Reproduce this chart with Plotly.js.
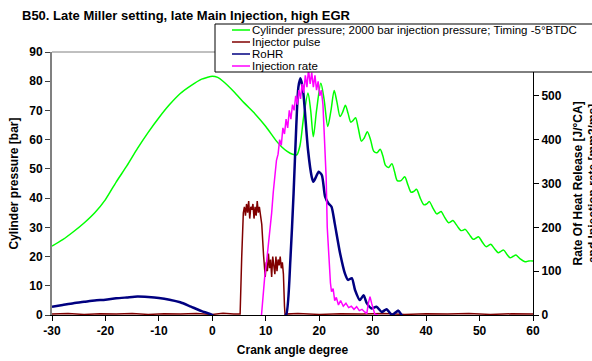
<!DOCTYPE html>
<html>
<head>
<meta charset="utf-8">
<script src="https://cdn.plot.ly/plotly-3.0.1.min.js"></script>
<style>html,body{margin:0;padding:0;background:#fff;}#chart{width:592px;height:361px;}</style>
</head>
<body>
<div id="chart"></div>
<script>
// ---- Data ----
const chartTitle = "B50. Late Miller setting, late Main Injection, high EGR";
const xTitle = "Crank angle degree";
const yTitle = "Cylinder pressure [bar]";
const y2Title = "Rate Of Heat Release [J/°CA]<br>and Injection rate [mm3/ms]";
const seriesNames = ["Cylinder pressure; 2000 bar injection pressure; Timing -5°BTDC", "Injector pulse", "RoHR", "Injection rate"];
const seriesColors = ["#00ff00", "#800000", "#000080", "#ff00ff"];

// Cylinder pressure [bar]
const pressureX = [-30,-28,-26,-24,-22,-20,-18,-16,-14,-12,-10,-8,-6,-4,-2,-1,0,1,2,4,6,8,10,12,13,14,15,15.8,16.4,17.1,17.9,18.4,18.9,19.5,20.3,20.9,21.6,22.2,22.8,23.3,23.9,24.4,24.9,25.4,25.9,26.3,26.8,27.3,27.9,28.4,29.0,29.6,30.2,30.8,31.4,31.9,32.4,33.0,33.6,34.1,34.6,35.3,36.0,36.6,37.2,37.7,38.2,38.9,39.6,40.1,40.6,41.3,42.0,42.4,42.8,43.5,44.2,44.6,45.0,45.8,46.5,46.9,47.3,48.1,48.8,49.3,49.8,50.5,51.2,51.7,52.1,52.8,53.5,54.0,54.5,55.1,55.7,56.3,56.8,57.6,58.5,59.2,60];
const pressureY = [23.6,25.8,28.5,31.5,35,39.5,45.5,51,57,62.5,67.5,72,75.8,78.5,80.7,81.3,81.7,81.3,80,76.5,72.5,68.8,64.5,59.5,57.5,56,55,54.8,58,68,76,70,61,70,79.3,74,64.5,70,76.8,73,67.9,69.5,71.8,69,66,66.5,67.5,64,59.5,60.5,62.7,60,56,55.5,56.7,54.5,51.2,50.5,51.8,49,46,46,47.3,44.5,42,42.3,43,40,37.7,38,38.8,36.5,34.6,35,35.4,33.3,31.6,31.9,32.3,30.5,28.9,29,29.3,27.5,25.9,26.3,26.8,25,23.4,23.8,24.2,22.7,21.3,21.8,22.2,20.8,19.6,20.1,20.5,19.2,18.2,18.5,18.5];

// Injector pulse (left axis units)
const pulseX = [-30,-27,-24,-21,-18,-15,-12,-9,-6,-3,0,2,4,5.2,5.5,5.8,6.0,6.2,6.4,6.6,6.8,7.0,7.2,7.4,7.6,7.8,8.0,8.2,8.4,8.6,8.8,9.0,9.25,9.6,9.9,10.1,10.3,10.5,10.7,10.9,11.1,11.3,11.5,11.7,11.9,12.1,12.3,12.5,12.7,12.9,13.1,13.3,13.5,13.6,16,20,24,28,32,36,40,44,48,52,56,60];
const pulseY = [0.3,0.5,0.2,0.4,0.3,0.5,0.2,0.4,0.3,0.5,0.2,0.6,0.3,0.3,20,35,37,34,38,35,39,33,37,36,38,33,37,34,39,35,37,34,31,20,13,18,15,21,16,19,13,20,17,14,20,15,19,17,20,16,18,14,3,0.3,0.5,0.2,0.4,0.3,0.5,0.2,0.4,0.3,0.5,0.2,0.4,0.3];

// Rate of heat release [J/°CA]
const rohrX = [-30,-28,-26,-24,-22,-20,-18,-16,-14,-12,-10,-8,-6,-4,-2,0,1,5,10,13,13.8,14.6,15.2,15.7,16.1,16.5,17.0,17.3,17.9,18.6,18.9,19.4,19.9,20.5,21.1,21.7,22.3,22.9,23.9,24.8,25.4,26.1,26.7,27.6,28.3,28.9,29.8,30.7,31.7,32.6,33.6,34.2,34.8,35.4,36,60];
const rohrY = [19,23,27,30,33,35,38,40,42,41,39,35,29,19,9,0,-10,-20,-15,-5,0,125,277,429,520,540,510,468,377,315,304,315,327,319,270,255,247,209,141,95,80,84,57,34,45,27,15,19,7,13,0,5,10,0,-5,-5];

// Injection rate (right axis units)
const injX = [9.2,9.5,9.8,10.2,10.5,10.8,11.1,11.4,11.7,12.0,12.3,12.6,12.9,13.2,13.5,13.8,14.1,14.4,14.7,15.0,15.3,15.6,15.9,16.2,16.5,16.8,17.1,17.4,17.7,18.0,18.3,18.6,18.9,19.2,19.5,19.8,20.1,20.4,20.7,20.9,21.1,21.3,21.5,21.7,21.9,22.1,22.3,22.6,22.9,23.2,23.6,24.0,24.5,25.0,25.5,26.0,26.5,27.0,27.5,28.0,28.5,28.9,29.2,29.5,29.8,30.1,30.4,31];
const injY = [0,47,87,127,160,200,233,280,313,353,367,400,387,427,413,447,427,467,447,480,467,500,480,513,493,527,507,547,520,560,527,553,520,547,513,533,500,513,480,427,367,313,200,147,113,73,53,60,33,40,23,33,20,27,17,20,13,19,10,13,7,3,27,42,27,13,2,0];

const xTicks = [-30,-20,-10,0,10,20,30,40,50,60];
const xTickText = ["-30","-20","-10","0","10","20","30","40","50","60"];
const yTicks = [0,10,20,30,40,50,60,70,80,90];
const y2Ticks = [0,100,200,300,400,500];

const FONT = "Liberation Sans, Arial, sans-serif";

const traces = [
  {x: pressureX, y: pressureY, name: seriesNames[0], type: "scatter", mode: "lines", line: {color: seriesColors[0], width: 1.5, shape: "spline", smoothing: 0.8}, yaxis: "y"},
  {x: pulseX, y: pulseY, name: seriesNames[1], type: "scatter", mode: "lines", line: {color: seriesColors[1], width: 1.5}, yaxis: "y"},
  {x: rohrX, y: rohrY, name: seriesNames[2], type: "scatter", mode: "lines", line: {color: seriesColors[2], width: 2.5, shape: "spline", smoothing: 0.6}, yaxis: "y2"},
  {x: injX, y: injY, name: seriesNames[3], type: "scatter", mode: "lines", line: {color: seriesColors[3], width: 1.5}, yaxis: "y2"}
];

// Custom compact legend (box + line samples + labels)
const L = {left: 215, top: 24, bottom: 72, rowY: [30, 42, 54, 66], sx0: 232, sx1: 250, tx: 251};
const shapes = [
  {type: "line", xref: "paper", yref: "paper", x0: 0, x1: 1, y0: 1, y1: 1, line: {color: "#808080", width: 1}},
  {type: "rect", xref: "paper", yref: "paper", x0: (L.left-52)/481, x1: (600-52)/481, y0: (315-L.bottom)/263, y1: (315-L.top)/263, line: {color: "#000", width: 1}, fillcolor: "#fff", layer: "above"}
];
const annotations = [];
seriesNames.forEach((n, i) => {
  const yp = (315 - L.rowY[i]) / 263;
  shapes.push({type: "line", xref: "paper", yref: "paper", x0: (L.sx0-52)/481, x1: (L.sx1-52)/481, y0: yp, y1: yp, line: {color: seriesColors[i], width: 1.5}, layer: "above"});
  annotations.push({xref: "paper", yref: "paper", x: (L.tx-52)/481, y: yp, xanchor: "left", yanchor: "middle", text: n, showarrow: false, borderpad: 0, font: {family: FONT, size: 11.5, color: "#000"}});
});
annotations.push({xref: "paper", yref: "paper", x: (585-52)/481, y: 0.5, xanchor: "center", yanchor: "middle", text: y2Title, textangle: -90, showarrow: false, font: {family: FONT, size: 12, color: "#000", weight: "bold"}});

const layout = {
  width: 592, height: 361,
  margin: {l: 52, r: 59, t: 52, b: 46},
  paper_bgcolor: "#fff", plot_bgcolor: "#fff",
  showlegend: false,
  font: {family: FONT, size: 12, color: "#000"},
  title: {text: chartTitle, x: 22/592, xref: "container", xanchor: "left", y: 1 - 15/361, yref: "container", yanchor: "middle", font: {family: FONT, size: 13, weight: "bold", color: "#000"}},
  xaxis: {range: [-30, 60], tickvals: xTicks, ticktext: xTickText, ticks: "outside", ticklen: 5, tickcolor: "#000", showline: true, linecolor: "#000", linewidth: 1, showgrid: false, zeroline: false, tickfont: {family: FONT, size: 12, weight: "bold"}, title: {text: xTitle, font: {family: FONT, size: 12, weight: "bold"}, standoff: 8}},
  yaxis: {range: [0, 90], tickvals: yTicks, ticks: "outside", ticklen: 5, tickcolor: "#404040", showline: true, linecolor: "#808080", linewidth: 2, showgrid: false, zeroline: false, tickfont: {family: FONT, size: 12, weight: "bold"}, title: {text: yTitle, font: {family: FONT, size: 12, weight: "bold"}, standoff: 8}},
  yaxis2: {range: [0, 600], tickvals: y2Ticks, overlaying: "y", side: "right", ticks: "outside", ticklen: 5, tickcolor: "#000", showline: true, linecolor: "#000", linewidth: 1, showgrid: false, zeroline: false, tickfont: {family: FONT, size: 12, weight: "bold"}},
  shapes: shapes,
  annotations: annotations
};

Plotly.newPlot("chart", traces, layout, {displayModeBar: false, staticPlot: true});
</script>
</body>
</html>
